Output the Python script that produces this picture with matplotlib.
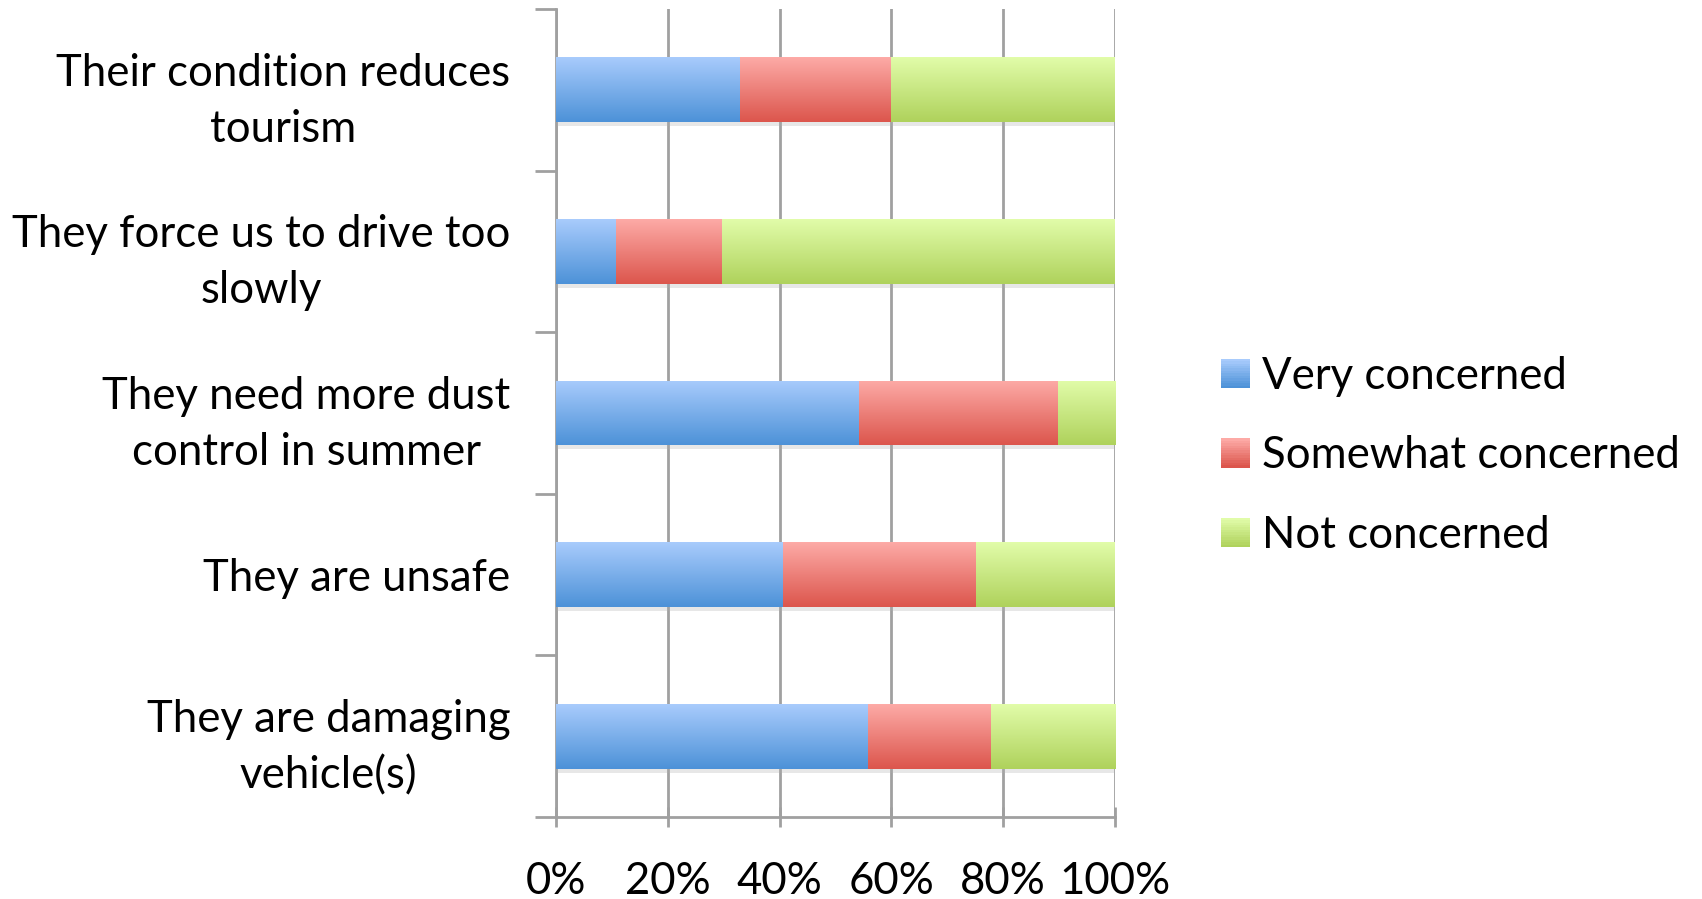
import matplotlib
matplotlib.use("Agg")
import matplotlib.pyplot as plt
import numpy as np
from matplotlib.colors import LinearSegmentedColormap
from matplotlib.legend_handler import HandlerBase
from matplotlib.patches import Rectangle
import matplotlib.patheffects as pe

plt.rcParams['font.family'] = ['Lato', 'DejaVu Sans']

categories = ['Their condition reduces\ntourism',
              'They force us to drive too\nslowly',
              'They need more dust\ncontrol in summer',
              'They are unsafe',
              'They are damaging\nvehicle(s)']
series = ['Very concerned', 'Somewhat concerned', 'Not concerned']
very = [32.9, 10.8, 54.2, 40.6, 55.9]
somewhat = [27.1, 18.9, 35.6, 34.6, 21.9]
not_conc = [40.0, 70.3, 10.2, 24.8, 22.2]
xticks = [0, 20, 40, 60, 80, 100]
xtick_labels = ['0%', '20%', '40%', '60%', '80%', '100%']

# top colour, bottom colour of each gradient
grad = [('#a8cbfc', '#4d92d8'),
        ('#fdaaa6', '#dc564d'),
        ('#e1fca9', '#afd25c')]
FS = 31.5

fig = plt.figure(figsize=(17.02, 8.99), dpi=100)
ax = fig.add_axes([0.3267, 0.0912, 0.3284, 0.8988])

y = np.arange(len(categories))
left = np.zeros(len(categories))
for vals, (top, bot), name in zip([very, somewhat, not_conc], grad, series):
    bars = ax.barh(y, vals, left=left, height=0.40, color=bot, label=name, zorder=3,
                   path_effects=[pe.SimplePatchShadow(offset=(1, -3), shadow_rgbFace='#b0b0b0', alpha=0.3),
                                 pe.Normal()])
    cmap = LinearSegmentedColormap.from_list('g', [top, bot])
    g = np.linspace(0, 1, 64).reshape(-1, 1)
    for b in bars:
        x0, yb, w, h = b.get_x(), b.get_y(), b.get_width(), b.get_height()
        im = ax.imshow(g, cmap=cmap, aspect='auto', extent=(x0, x0 + w, yb + h, yb),
                       zorder=4, interpolation='bilinear')
        im.set_clip_path(b)
    left += np.array(vals)

ax.set_xlim(0, 100)
ax.set_ylim(len(categories) - 0.5, -0.5)

ax.set_xticks(xticks)
ax.set_xticklabels(xtick_labels, fontsize=FS)
ax.set_yticks(y)
ax.set_yticklabels(categories, fontsize=FS, ha='right', multialignment='center', linespacing=1.45)
ax.set_yticks(np.arange(len(categories) + 1) - 0.5, minor=True)

ax.tick_params(axis='y', which='major', length=0, pad=33)
ax.tick_params(axis='y', which='minor', length=15, width=2, color='#a0a0a0', direction='out')
ax.tick_params(axis='x', which='major', length=15, width=2, color='#a0a0a0', direction='inout', pad=24)

ax.grid(axis='x', color='#a0a0a0', linewidth=2, zorder=0)
ax.set_axisbelow(True)
for s in ['top', 'right']:
    ax.spines[s].set_visible(False)
for s in ['left', 'bottom']:
    ax.spines[s].set_color('#a0a0a0')
    ax.spines[s].set_linewidth(2)


class GradHandler(HandlerBase):
    def __init__(self, top, bot):
        super().__init__()
        self.top = top
        self.bot = bot

    def create_artists(self, legend, orig_handle, xdescent, ydescent, width, height, fontsize, trans):
        cmap = LinearSegmentedColormap.from_list('g', [self.top, self.bot])
        n = 12
        arts = []
        for i in range(n):
            arts.append(Rectangle((-xdescent, -ydescent + height * (n - 1 - i) / n), width, height / n,
                                  facecolor=cmap(i / (n - 1)), edgecolor='none', transform=trans))
        return arts


handles, labels = ax.get_legend_handles_labels()
hmap = {h: GradHandler(t, b) for h, (t, b) in zip(handles, grad)}
fig.legend(handles, labels, handler_map=hmap, loc='center left',
           bbox_to_anchor=(0.7175, 0.493), frameon=False, fontsize=FS,
           handlelength=0.67, handleheight=0.67, handletextpad=0.27, labelspacing=0.88,
           borderaxespad=0, borderpad=0)

fig.savefig('out.png', dpi=100)
